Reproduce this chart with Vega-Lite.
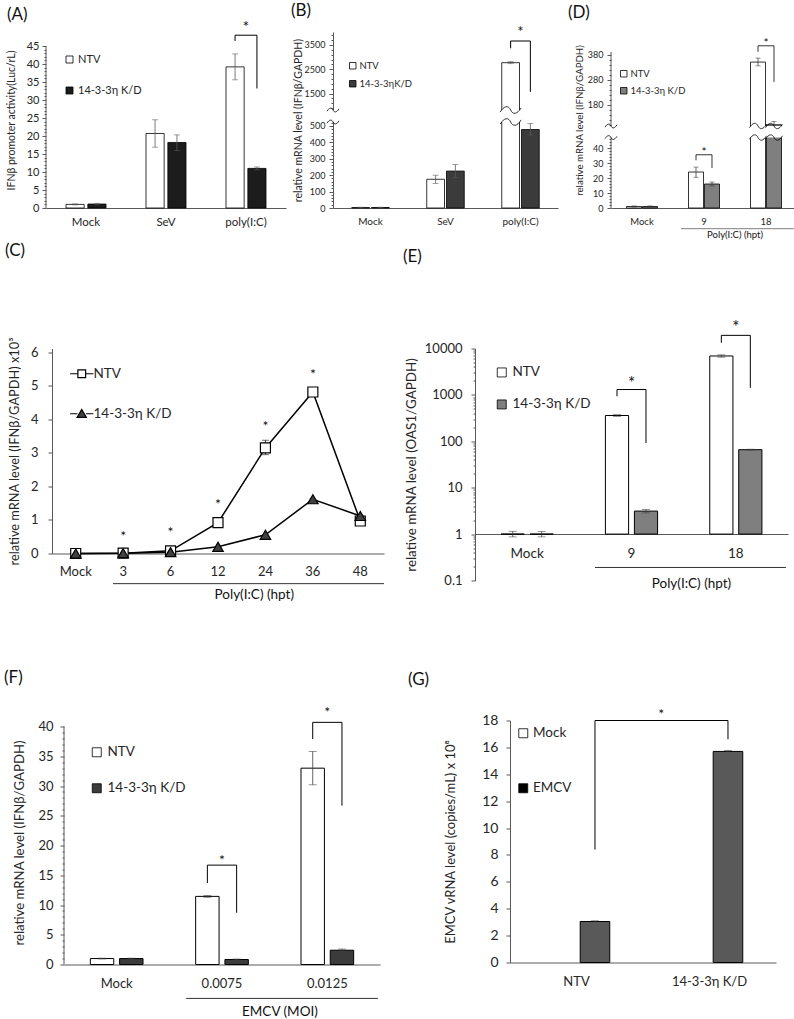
{
"$schema": "https://vega.github.io/schema/vega-lite/v6.json",
"background": "white",
"padding": {"left": 4, "top": 2, "right": 0, "bottom": 0},
"config": {
 "font": "Lato",
 "view": {"stroke": null},
 "axis": {"grid": false, "labelOverlap": false, "labelFont": "Lato", "titleFont": "Lato", "labelColor": "#262626", "titleColor": "#262626", "titleFontWeight": "normal", "domainColor": "#595959", "tickColor": "#595959", "tickSize": 4, "labelPadding": 2},
 "axisX": {"ticks": false, "tickSize": 0, "labelAngle": 0},
 "legend": {"padding": 0, "symbolStrokeColor": "black", "symbolStrokeWidth": 0.8, "symbolType": "square", "labelFont": "Lato", "labelColor": "#262626", "labelLimit": 200},
 "title": {"fontSize": 17, "fontWeight": "normal", "anchor": "start", "frame": "group", "baseline": "bottom", "font": "Lato", "color": "#111"},
 "text": {"font": "Lato", "color": "#111"}
},
"datasets": {
 "aBars": [
  {"cat":"Mock","grp":"NTV","v":1.0,"lo":0.85,"hi":1.15},
  {"cat":"Mock","grp":"14-3-3η K/D","v":1.1,"lo":0.9,"hi":1.3},
  {"cat":"SeV","grp":"NTV","v":20.7,"lo":16.9,"hi":24.5},
  {"cat":"SeV","grp":"14-3-3η K/D","v":18.2,"lo":16.0,"hi":20.3},
  {"cat":"poly(I:C)","grp":"NTV","v":39.2,"lo":35.6,"hi":42.8},
  {"cat":"poly(I:C)","grp":"14-3-3η K/D","v":11.0,"lo":10.6,"hi":11.4}],
 "aAx": [{"cat":"Mock","y0":0,"y1":45}],
 "aBr": [
  {"b":1,"o":1,"cat":"poly(I:C)","grp":"NTV","y":46.4},
  {"b":1,"o":2,"cat":"poly(I:C)","grp":"NTV","y":48.0},
  {"b":1,"o":3,"cat":"poly(I:C)","grp":"14-3-3η K/D","y":48.0},
  {"b":1,"o":4,"cat":"poly(I:C)","grp":"14-3-3η K/D","y":33.2}],
 "aStar": [{"cat":"poly(I:C)","y":51.2}],
 "bBars": [
  {"cat":"Mock","grp":"NTV","v":3,"lo":1,"hi":5},
  {"cat":"Mock","grp":"14-3-3ηK/D","v":3,"lo":1,"hi":5},
  {"cat":"SeV","grp":"NTV","v":175,"lo":150,"hi":200},
  {"cat":"SeV","grp":"14-3-3ηK/D","v":225,"lo":187,"hi":265},
  {"cat":"poly(I:C)","grp":"NTV","v":2770,"lo":2730,"hi":2810},
  {"cat":"poly(I:C)","grp":"14-3-3ηK/D","v":478,"lo":445,"hi":515}],
 "bBr": [
  {"b":1,"o":1,"cat":"poly(I:C)","grp":"NTV","y":3360},
  {"b":1,"o":2,"cat":"poly(I:C)","grp":"NTV","y":3660},
  {"b":1,"o":3,"cat":"poly(I:C)","grp":"14-3-3ηK/D","y":3660},
  {"b":1,"o":4,"cat":"poly(I:C)","grp":"14-3-3ηK/D","y":1570}],
 "bStar": [{"cat":"poly(I:C)","y":4160}],
 "bGap": [{"cat":"poly(I:C)","grp":"NTV","lo":524,"hi":826}],
 "bGapAx": [{"cat":"Mock","lo":524,"hi":826}],
 "dBars": [
  {"cat":"Mock","grp":"NTV","v":1,"lo":0.6,"hi":1.4},
  {"cat":"Mock","grp":"14-3-3η K/D","v":1,"lo":0.6,"hi":1.4},
  {"cat":"9","grp":"NTV","v":24,"lo":20.5,"hi":27.3},
  {"cat":"9","grp":"14-3-3η K/D","v":16,"lo":14.7,"hi":17.3},
  {"cat":"18","grp":"NTV","v":350,"lo":335,"hi":366},
  {"cat":"18","grp":"14-3-3η K/D","v":100,"lo":92,"hi":113}],
 "dAx": [{"cat":"Mock","y0":0,"y1":390}],
 "dBr": [
  {"b":1,"o":1,"cat":"9","grp":"NTV","y":31.8},
  {"b":1,"o":2,"cat":"9","grp":"NTV","y":35.5},
  {"b":1,"o":3,"cat":"9","grp":"14-3-3η K/D","y":35.5},
  {"b":1,"o":4,"cat":"9","grp":"14-3-3η K/D","y":26.7},
  {"b":2,"o":1,"cat":"18","grp":"NTV","y":391},
  {"b":2,"o":2,"cat":"18","grp":"NTV","y":415},
  {"b":2,"o":3,"cat":"18","grp":"14-3-3η K/D","y":415},
  {"b":2,"o":4,"cat":"18","grp":"14-3-3η K/D","y":271}],
 "dStar": [{"cat":"9","y":38.5},{"cat":"18","y":434}],
 "dGap": [{"cat":"18","grp":"NTV","lo":47,"hi":95},{"cat":"18","grp":"14-3-3η K/D","lo":47,"hi":95}],
 "dGapAx": [{"cat":"Mock","lo":47,"hi":95}],
 "dGroup": [{"from":"9","to":"18","y":-13.8,"ty":-18,"label":"Poly(I:C) (hpt)"}],
 "cData": [
  {"t":"Mock","grp":"NTV","v":0},{"t":"3","grp":"NTV","v":0.01},{"t":"6","grp":"NTV","v":0.08},{"t":"12","grp":"NTV","v":0.92},{"t":"24","grp":"NTV","v":3.15},{"t":"36","grp":"NTV","v":4.82},{"t":"48","grp":"NTV","v":0.97},
  {"t":"Mock","grp":"14-3-3η K/D","v":0},{"t":"3","grp":"14-3-3η K/D","v":0.01},{"t":"6","grp":"14-3-3η K/D","v":0.04},{"t":"12","grp":"14-3-3η K/D","v":0.2},{"t":"24","grp":"14-3-3η K/D","v":0.56},{"t":"36","grp":"14-3-3η K/D","v":1.62},{"t":"48","grp":"14-3-3η K/D","v":1.12}],
 "cErr": [{"t":"24","lo":2.95,"hi":3.38}],
 "cStar": [{"t":"3","y":0.58},{"t":"6","y":0.71},{"t":"12","y":1.55},{"t":"24","y":3.86},{"t":"36","y":5.43}],
 "cGroup": [{"from":"3","to":"48","y":-0.9,"ty":-1.23,"label":"Poly(I:C) (hpt)"}],
 "eBars": [
  {"cat":"Mock","grp":"NTV","v":1,"lo":0.87,"hi":1.15},
  {"cat":"Mock","grp":"14-3-3η K/D","v":1,"lo":0.87,"hi":1.15},
  {"cat":"9","grp":"NTV","v":360,"lo":345,"hi":375},
  {"cat":"9","grp":"14-3-3η K/D","v":3.13,"lo":2.85,"hi":3.4},
  {"cat":"18","grp":"NTV","v":6900,"lo":6500,"hi":7300},
  {"cat":"18","grp":"14-3-3η K/D","v":66,"lo":64.5,"hi":67.5}],
 "eBr": [
  {"b":1,"o":1,"cat":"9","grp":"NTV","y":935},
  {"b":1,"o":2,"cat":"9","grp":"NTV","y":1306},
  {"b":1,"o":3,"cat":"9","grp":"14-3-3η K/D","y":1306},
  {"b":1,"o":4,"cat":"9","grp":"14-3-3η K/D","y":92},
  {"b":2,"o":1,"cat":"18","grp":"NTV","y":13300},
  {"b":2,"o":2,"cat":"18","grp":"NTV","y":19200},
  {"b":2,"o":3,"cat":"18","grp":"14-3-3η K/D","y":19200},
  {"b":2,"o":4,"cat":"18","grp":"14-3-3η K/D","y":1420}],
 "eStar": [{"cat":"9","y":2140},{"cat":"18","y":33000}],
 "eGroup": [{"from":"9","to":"18","y":0.191,"ty":0.086,"label":"Poly(I:C) (hpt)"}],
 "fBars": [
  {"cat":"Mock","grp":"NTV","v":1.0,"lo":0.93,"hi":1.07},
  {"cat":"Mock","grp":"14-3-3η K/D","v":1.0,"lo":0.93,"hi":1.07},
  {"cat":"0.0075","grp":"NTV","v":11.45,"lo":11.3,"hi":11.6},
  {"cat":"0.0075","grp":"14-3-3η K/D","v":0.84,"lo":0.76,"hi":0.92},
  {"cat":"0.0125","grp":"NTV","v":33.0,"lo":30.2,"hi":35.8},
  {"cat":"0.0125","grp":"14-3-3η K/D","v":2.4,"lo":2.2,"hi":2.6}],
 "fAx": [{"cat":"Mock","y0":0,"y1":40}],
 "fBr": [
  {"b":1,"o":1,"cat":"0.0075","grp":"NTV","y":13.7},
  {"b":1,"o":2,"cat":"0.0075","grp":"NTV","y":16.7},
  {"b":1,"o":3,"cat":"0.0075","grp":"14-3-3η K/D","y":16.7},
  {"b":1,"o":4,"cat":"0.0075","grp":"14-3-3η K/D","y":8.7},
  {"b":2,"o":1,"cat":"0.0125","grp":"NTV","y":37.9},
  {"b":2,"o":2,"cat":"0.0125","grp":"NTV","y":40.7},
  {"b":2,"o":3,"cat":"0.0125","grp":"14-3-3η K/D","y":40.7},
  {"b":2,"o":4,"cat":"0.0125","grp":"14-3-3η K/D","y":26.7}],
 "fStar": [{"cat":"0.0075","y":17.9},{"cat":"0.0125","y":42.7}],
 "fGroup": [{"from":"0.0075","to":"0.0125","y":-5.7,"ty":-7.9,"label":"EMCV (MOI)"}],
 "gBars": [
  {"cat":"NTV","grp":"Mock"},
  {"cat":"NTV","grp":"EMCV","v":3.05,"lo":3.0,"hi":3.1},
  {"cat":"14-3-3η K/D","grp":"Mock"},
  {"cat":"14-3-3η K/D","grp":"EMCV","v":15.7,"lo":15.62,"hi":15.78}],
 "gBr": [
  {"b":1,"o":1,"cat":"NTV","grp":"EMCV","y":8.4},
  {"b":1,"o":2,"cat":"NTV","grp":"EMCV","y":18},
  {"b":1,"o":3,"cat":"14-3-3η K/D","grp":"EMCV","y":18},
  {"b":1,"o":4,"cat":"14-3-3η K/D","grp":"EMCV","y":16.6}],
 "gStar": [{"cat":"NTV","y":18.6}]
},
"spacing": 1.5,
"bounds": "full",
"resolve": {"scale": {"x": "independent", "y": "independent", "xOffset": "independent", "fill": "independent", "shape": "independent", "stroke": "independent", "color": "independent"}, "axis": {"x": "independent", "y": "independent"}, "legend": {"fill": "independent", "shape": "independent", "stroke": "independent", "color": "independent"}},
"vconcat": [
 {"spacing": 0, "bounds": "flush",
  "resolve": {"scale": {"x": "independent", "y": "independent", "xOffset": "independent", "fill": "independent", "shape": "independent", "stroke": "independent", "color": "independent"}, "axis": {"x": "independent", "y": "independent"}, "legend": {"fill": "independent", "shape": "independent", "stroke": "independent", "color": "independent"}},
  "hconcat": [
 {"width": 240, "height": 176,
  "title": {"text": "(A)", "dx": -39, "offset": -5},
  "layer": [
   {"data": {"name": "aBars"}, "mark": {"type": "bar", "stroke": "black", "strokeWidth": 0.8},
    "encoding": {
     "x": {"field": "cat", "type": "nominal", "sort": ["Mock","SeV","poly(I:C)"], "scale": {"domain": ["Mock","SeV","poly(I:C)"], "paddingInner": 0.5, "paddingOuter": 0.25}, "axis": {"title": null, "labelFontSize": 11.5, "labelPadding": 8}},
     "xOffset": {"field": "grp", "type": "nominal", "sort": ["NTV","14-3-3η K/D"], "scale": {"domain": ["NTV","14-3-3η K/D"], "paddingInner": 0.17}},
     "y": {"field": "v", "type": "quantitative", "scale": {"domain": [0, 48.89], "nice": false}, "axis": {"title": "IFNβ promoter activity(Luc/rL)", "domain": false, "format": "d", "labelOverlap": false, "tickCount": 1000, "values": [0,1,2,3,4,5,6,7,8,9,10,11,12,13,14,15,16,17,18,19,20,21,22,23,24,25,26,27,28,29,30,31,32,33,34,35,36,37,38,39,40,41,42,43,44,45], "labelExpr": "datum.value % 5 === 0 ? datum.label : ''", "tickSize": {"condition": {"test": "datum.value % 5 === 0", "value": 4}, "value": 2}, "labelFontSize": 11, "titleFontSize": 10.5, "titlePadding": 10, "labelPadding": 3}},
     "fill": {"field": "grp", "type": "nominal", "scale": {"domain": ["NTV","14-3-3η K/D"], "range": ["white","#1c1c1c"]}, "legend": {"orient": "none", "legendX": 18, "legendY": 22, "title": null, "labelFontSize": 11, "symbolSize": 49, "rowPadding": 19, "labelOffset": 3}}
    }},
   {"data": {"name": "aAx"}, "mark": {"type": "rule", "color": "#595959", "strokeWidth": 1},
    "encoding": {"x": {"field": "cat", "type": "nominal", "sort": ["Mock","SeV","poly(I:C)"], "bandPosition": -0.5}, "y": {"field": "y0", "type": "quantitative"}, "y2": {"field": "y1"}}},
   {"data": {"name": "aBars"}, "mark": {"type": "rule", "color": "#595959", "strokeWidth": 0.8},
    "encoding": {"x": {"field": "cat", "type": "nominal", "sort": ["Mock","SeV","poly(I:C)"]}, "xOffset": {"field": "grp", "type": "nominal", "sort": ["NTV","14-3-3η K/D"]}, "y": {"field": "lo", "type": "quantitative"}, "y2": {"field": "hi"}}},
   {"data": {"name": "aBars"}, "mark": {"type": "tick", "orient": "horizontal", "color": "#595959", "size": 6, "thickness": 0.8},
    "encoding": {"x": {"field": "cat", "type": "nominal", "sort": ["Mock","SeV","poly(I:C)"]}, "xOffset": {"field": "grp", "type": "nominal", "sort": ["NTV","14-3-3η K/D"]}, "y": {"field": "hi", "type": "quantitative"}}},
   {"data": {"name": "aBars"}, "mark": {"type": "tick", "orient": "horizontal", "color": "#595959", "size": 6, "thickness": 0.8},
    "encoding": {"x": {"field": "cat", "type": "nominal", "sort": ["Mock","SeV","poly(I:C)"]}, "xOffset": {"field": "grp", "type": "nominal", "sort": ["NTV","14-3-3η K/D"]}, "y": {"field": "lo", "type": "quantitative"}}},
   {"data": {"name": "aBr"}, "mark": {"type": "line", "color": "black", "strokeWidth": 1},
    "encoding": {"x": {"field": "cat", "type": "nominal", "sort": ["Mock","SeV","poly(I:C)"]}, "xOffset": {"field": "grp", "type": "nominal", "sort": ["NTV","14-3-3η K/D"]}, "y": {"field": "y", "type": "quantitative"}, "order": {"field": "o", "type": "quantitative"}, "detail": {"field": "b", "type": "nominal"}}},
   {"data": {"name": "aStar"}, "mark": {"type": "text", "text": "*", "fontSize": 16, "baseline": "middle", "dy": 3},
    "encoding": {"x": {"field": "cat", "type": "nominal", "sort": ["Mock","SeV","poly(I:C)"]}, "y": {"field": "y", "type": "quantitative"}}}
  ]},
 {"width": 47, "height": 1, "data": {"values": []}, "mark": "point"},
 {"width": 225, "height": 176,
  "title": {"text": "(B)", "dx": -42, "offset": 4.5},
  "layer": [
   {"data": {"name": "bBars"}, "mark": {"type": "bar", "stroke": "black", "strokeWidth": 0.8},
    "encoding": {
     "x": {"field": "cat", "type": "nominal", "sort": ["Mock","SeV","poly(I:C)"], "scale": {"domain": ["Mock","SeV","poly(I:C)"], "paddingInner": 0.5, "paddingOuter": 0.25}, "axis": {"title": null, "labelFontSize": 10, "labelPadding": 8}},
     "xOffset": {"field": "grp", "type": "nominal", "sort": ["NTV","14-3-3ηK/D"], "scale": {"domain": ["NTV","14-3-3ηK/D"], "paddingInner": 0.1}},
     "y": {"field": "v", "type": "quantitative", "scale": {"domain": [0, 524, 826, 4030], "range": [176, 90, 78, 0], "nice": false, "zero": false}, "axis": {"title": "relative mRNA level (IFNβ/GAPDH)", "format": "d", "labelOverlap": false, "tickCount": 1000, "values": [0,20,40,60,80,100,120,140,160,180,200,220,240,260,280,300,320,340,360,380,400,420,440,460,480,500,520,900,1100,1300,1500,1700,1900,2100,2300,2500,2700,2900,3100,3300,3500,3700,3900], "labelExpr": "indexof([0,100,200,300,400,500,1500,2500,3500], datum.value) >= 0 ? datum.label : ''", "tickSize": {"condition": {"test": "indexof([0,100,200,300,400,500,1500,2500,3500], datum.value) >= 0", "value": 4}, "value": 2}, "labelFontSize": 9, "titleFontSize": 10.5, "titlePadding": 1, "labelPadding": 4}},
     "fill": {"field": "grp", "type": "nominal", "scale": {"domain": ["NTV","14-3-3ηK/D"], "range": ["white","#3b3b3b"]}, "legend": {"orient": "none", "legendX": 15, "legendY": 29, "title": null, "labelFontSize": 9.5, "symbolSize": 42, "rowPadding": 7, "labelOffset": 2}}
    }},
   {"data": {"name": "bBars"}, "mark": {"type": "rule", "color": "#595959", "strokeWidth": 0.8},
    "encoding": {"x": {"field": "cat", "type": "nominal", "sort": ["Mock","SeV","poly(I:C)"]}, "xOffset": {"field": "grp", "type": "nominal", "sort": ["NTV","14-3-3ηK/D"]}, "y": {"field": "lo", "type": "quantitative"}, "y2": {"field": "hi"}}},
   {"data": {"name": "bBars"}, "mark": {"type": "tick", "orient": "horizontal", "color": "#595959", "size": 6, "thickness": 0.8},
    "encoding": {"x": {"field": "cat", "type": "nominal", "sort": ["Mock","SeV","poly(I:C)"]}, "xOffset": {"field": "grp", "type": "nominal", "sort": ["NTV","14-3-3ηK/D"]}, "y": {"field": "hi", "type": "quantitative"}}},
   {"data": {"name": "bBars"}, "mark": {"type": "tick", "orient": "horizontal", "color": "#595959", "size": 6, "thickness": 0.8},
    "encoding": {"x": {"field": "cat", "type": "nominal", "sort": ["Mock","SeV","poly(I:C)"]}, "xOffset": {"field": "grp", "type": "nominal", "sort": ["NTV","14-3-3ηK/D"]}, "y": {"field": "lo", "type": "quantitative"}}},
   {"data": {"name": "bGap"}, "mark": {"type": "rule", "color": "white", "strokeWidth": 22},
    "encoding": {"x": {"field": "cat", "type": "nominal", "sort": ["Mock","SeV","poly(I:C)"]}, "xOffset": {"field": "grp", "type": "nominal", "sort": ["NTV","14-3-3ηK/D"]}, "y": {"field": "lo", "type": "quantitative"}, "y2": {"field": "hi"}}},
   {"data": {"name": "bGap"}, "mark": {"type": "point", "shape": "M-1,0.2C-0.6,-0.45 -0.2,-0.45 0,0C0.2,0.45 0.6,0.45 1,-0.2", "size": 441, "filled": false, "stroke": "black", "strokeWidth": 0.8, "opacity": 1},
    "encoding": {"x": {"field": "cat", "type": "nominal", "sort": ["Mock","SeV","poly(I:C)"]}, "xOffset": {"field": "grp", "type": "nominal", "sort": ["NTV","14-3-3ηK/D"]}, "y": {"field": "lo", "type": "quantitative"}}},
   {"data": {"name": "bGap"}, "mark": {"type": "point", "shape": "M-1,0.2C-0.6,-0.45 -0.2,-0.45 0,0C0.2,0.45 0.6,0.45 1,-0.2", "size": 441, "filled": false, "stroke": "black", "strokeWidth": 0.8, "opacity": 1},
    "encoding": {"x": {"field": "cat", "type": "nominal", "sort": ["Mock","SeV","poly(I:C)"]}, "xOffset": {"field": "grp", "type": "nominal", "sort": ["NTV","14-3-3ηK/D"]}, "y": {"field": "hi", "type": "quantitative"}}},
   {"data": {"name": "bGapAx"}, "mark": {"type": "rule", "color": "white", "strokeWidth": 4},
    "encoding": {"x": {"field": "cat", "type": "nominal", "sort": ["Mock","SeV","poly(I:C)"], "bandPosition": -0.5}, "y": {"field": "lo", "type": "quantitative"}, "y2": {"field": "hi"}}},
   {"data": {"name": "bGapAx"}, "mark": {"type": "point", "shape": "M-1,0.2C-0.6,-0.45 -0.2,-0.45 0,0C0.2,0.45 0.6,0.45 1,-0.2", "size": 144, "filled": false, "stroke": "black", "strokeWidth": 0.8, "opacity": 1},
    "encoding": {"x": {"field": "cat", "type": "nominal", "sort": ["Mock","SeV","poly(I:C)"], "bandPosition": -0.5}, "y": {"field": "lo", "type": "quantitative"}}},
   {"data": {"name": "bGapAx"}, "mark": {"type": "point", "shape": "M-1,0.2C-0.6,-0.45 -0.2,-0.45 0,0C0.2,0.45 0.6,0.45 1,-0.2", "size": 144, "filled": false, "stroke": "black", "strokeWidth": 0.8, "opacity": 1},
    "encoding": {"x": {"field": "cat", "type": "nominal", "sort": ["Mock","SeV","poly(I:C)"], "bandPosition": -0.5}, "y": {"field": "hi", "type": "quantitative"}}},
   {"data": {"name": "bBr"}, "mark": {"type": "line", "color": "black", "strokeWidth": 1},
    "encoding": {"x": {"field": "cat", "type": "nominal", "sort": ["Mock","SeV","poly(I:C)"]}, "xOffset": {"field": "grp", "type": "nominal", "sort": ["NTV","14-3-3ηK/D"]}, "y": {"field": "y", "type": "quantitative"}, "order": {"field": "o", "type": "quantitative"}, "detail": {"field": "b", "type": "nominal"}}},
   {"data": {"name": "bStar"}, "mark": {"type": "text", "text": "*", "fontSize": 15, "baseline": "middle", "dy": 3},
    "encoding": {"x": {"field": "cat", "type": "nominal", "sort": ["Mock","SeV","poly(I:C)"]}, "y": {"field": "y", "type": "quantitative"}}}
  ]},
 {"width": 53, "height": 1, "data": {"values": []}, "mark": "point"},
 {"width": 186, "height": 176,
  "title": {"text": "(D)", "dx": -43, "offset": 10.5},
  "layer": [
   {"data": {"name": "dBars"}, "mark": {"type": "bar", "stroke": "black", "strokeWidth": 0.8},
    "encoding": {
     "x": {"field": "cat", "type": "nominal", "sort": ["Mock","9","18"], "scale": {"domain": ["Mock","9","18"], "paddingInner": 0.5, "paddingOuter": 0.25}, "axis": {"title": null, "labelFontSize": 9.5, "labelPadding": 8}},
     "xOffset": {"field": "grp", "type": "nominal", "sort": ["NTV","14-3-3η K/D"], "scale": {"domain": ["NTV","14-3-3η K/D"], "paddingInner": 0.06}},
     "y": {"field": "v", "type": "quantitative", "scale": {"domain": [0, 47, 95, 470], "range": [176, 105.5, 94, 0], "nice": false, "zero": false}, "axis": {"title": "relative mRNA level (IFNβ/GAPDH)", "domain": false, "format": "d", "labelOverlap": false, "tickCount": 1000, "values": [0,2,4,6,8,10,12,14,16,18,20,22,24,26,28,30,32,34,36,38,40,42,44,46,100,120,140,160,180,200,220,240,260,280,300,320,340,360,380], "labelExpr": "indexof([0,10,20,30,40,180,280,380], datum.value) >= 0 ? datum.label : ''", "tickSize": {"condition": {"test": "indexof([0,10,20,30,40,180,280,380], datum.value) >= 0", "value": 4}, "value": 2}, "labelFontSize": 9, "titleFontSize": 9.7, "titlePadding": 3, "labelPadding": 4}},
     "fill": {"field": "grp", "type": "nominal", "scale": {"domain": ["NTV","14-3-3η K/D"], "range": ["white","#7f7f7f"]}, "legend": {"orient": "none", "legendX": 8, "legendY": 37, "title": null, "labelFontSize": 9.5, "symbolSize": 42, "rowPadding": 6, "labelOffset": 2}}
    }},
   {"data": {"name": "dAx"}, "mark": {"type": "rule", "color": "#595959", "strokeWidth": 1},
    "encoding": {"x": {"field": "cat", "type": "nominal", "sort": ["Mock","9","18"], "bandPosition": -0.5}, "y": {"field": "y0", "type": "quantitative"}, "y2": {"field": "y1"}}},
   {"data": {"name": "dBars"}, "mark": {"type": "rule", "color": "#404040", "strokeWidth": 0.8},
    "encoding": {"x": {"field": "cat", "type": "nominal", "sort": ["Mock","9","18"]}, "xOffset": {"field": "grp", "type": "nominal", "sort": ["NTV","14-3-3η K/D"]}, "y": {"field": "lo", "type": "quantitative"}, "y2": {"field": "hi"}}},
   {"data": {"name": "dBars"}, "mark": {"type": "tick", "orient": "horizontal", "color": "#404040", "size": 5, "thickness": 0.8},
    "encoding": {"x": {"field": "cat", "type": "nominal", "sort": ["Mock","9","18"]}, "xOffset": {"field": "grp", "type": "nominal", "sort": ["NTV","14-3-3η K/D"]}, "y": {"field": "hi", "type": "quantitative"}}},
   {"data": {"name": "dBars"}, "mark": {"type": "tick", "orient": "horizontal", "color": "#404040", "size": 5, "thickness": 0.8},
    "encoding": {"x": {"field": "cat", "type": "nominal", "sort": ["Mock","9","18"]}, "xOffset": {"field": "grp", "type": "nominal", "sort": ["NTV","14-3-3η K/D"]}, "y": {"field": "lo", "type": "quantitative"}}},
   {"data": {"name": "dGap"}, "mark": {"type": "rule", "color": "white", "strokeWidth": 17},
    "encoding": {"x": {"field": "cat", "type": "nominal", "sort": ["Mock","9","18"]}, "xOffset": {"field": "grp", "type": "nominal", "sort": ["NTV","14-3-3η K/D"]}, "y": {"field": "lo", "type": "quantitative"}, "y2": {"field": "hi"}}},
   {"data": {"name": "dGap"}, "mark": {"type": "point", "shape": "M-1,0.2C-0.6,-0.45 -0.2,-0.45 0,0C0.2,0.45 0.6,0.45 1,-0.2", "size": 289, "filled": false, "stroke": "black", "strokeWidth": 0.8, "opacity": 1},
    "encoding": {"x": {"field": "cat", "type": "nominal", "sort": ["Mock","9","18"]}, "xOffset": {"field": "grp", "type": "nominal", "sort": ["NTV","14-3-3η K/D"]}, "y": {"field": "lo", "type": "quantitative"}}},
   {"data": {"name": "dGap"}, "mark": {"type": "point", "shape": "M-1,0.2C-0.6,-0.45 -0.2,-0.45 0,0C0.2,0.45 0.6,0.45 1,-0.2", "size": 289, "filled": false, "stroke": "black", "strokeWidth": 0.8, "opacity": 1},
    "encoding": {"x": {"field": "cat", "type": "nominal", "sort": ["Mock","9","18"]}, "xOffset": {"field": "grp", "type": "nominal", "sort": ["NTV","14-3-3η K/D"]}, "y": {"field": "hi", "type": "quantitative"}}},
   {"data": {"name": "dGapAx"}, "mark": {"type": "rule", "color": "white", "strokeWidth": 4},
    "encoding": {"x": {"field": "cat", "type": "nominal", "sort": ["Mock","9","18"], "bandPosition": -0.5}, "y": {"field": "lo", "type": "quantitative"}, "y2": {"field": "hi"}}},
   {"data": {"name": "dGapAx"}, "mark": {"type": "point", "shape": "M-1,0.2C-0.6,-0.45 -0.2,-0.45 0,0C0.2,0.45 0.6,0.45 1,-0.2", "size": 144, "filled": false, "stroke": "black", "strokeWidth": 0.8, "opacity": 1},
    "encoding": {"x": {"field": "cat", "type": "nominal", "sort": ["Mock","9","18"], "bandPosition": -0.5}, "y": {"field": "lo", "type": "quantitative"}}},
   {"data": {"name": "dGapAx"}, "mark": {"type": "point", "shape": "M-1,0.2C-0.6,-0.45 -0.2,-0.45 0,0C0.2,0.45 0.6,0.45 1,-0.2", "size": 144, "filled": false, "stroke": "black", "strokeWidth": 0.8, "opacity": 1},
    "encoding": {"x": {"field": "cat", "type": "nominal", "sort": ["Mock","9","18"], "bandPosition": -0.5}, "y": {"field": "hi", "type": "quantitative"}}},
   {"data": {"name": "dBr"}, "mark": {"type": "line", "color": "black", "strokeWidth": 0.8},
    "encoding": {"x": {"field": "cat", "type": "nominal", "sort": ["Mock","9","18"]}, "xOffset": {"field": "grp", "type": "nominal", "sort": ["NTV","14-3-3η K/D"]}, "y": {"field": "y", "type": "quantitative"}, "order": {"field": "o", "type": "quantitative"}, "detail": {"field": "b", "type": "nominal"}}},
   {"data": {"name": "dStar"}, "mark": {"type": "text", "text": "*", "fontSize": 12, "baseline": "middle", "dy": 2},
    "encoding": {"x": {"field": "cat", "type": "nominal", "sort": ["Mock","9","18"]}, "y": {"field": "y", "type": "quantitative"}}},
   {"data": {"name": "dGroup"}, "mark": {"type": "rule", "color": "#7f7f7f", "strokeWidth": 1},
    "encoding": {"x": {"field": "from", "type": "nominal", "sort": ["Mock","9","18"], "bandPosition": -0.24}, "x2": {"field": "to", "bandPosition": 1.4}, "y": {"field": "y", "type": "quantitative"}}},
   {"data": {"name": "dGroup"}, "mark": {"type": "text", "fontSize": 9.5, "baseline": "middle"},
    "encoding": {"x": {"field": "from", "type": "nominal", "sort": ["Mock","9","18"], "bandPosition": 1.5}, "y": {"field": "ty", "type": "quantitative"}, "text": {"field": "label"}}}
  ]}
 ]},
 {"spacing": 0, "bounds": "flush",
  "resolve": {"scale": {"x": "independent", "y": "independent", "xOffset": "independent", "fill": "independent", "shape": "independent", "stroke": "independent", "color": "independent"}, "axis": {"x": "independent", "y": "independent"}, "legend": {"fill": "independent", "shape": "independent", "stroke": "independent", "color": "independent"}},
  "hconcat": [
 {"width": 6, "height": 1, "data": {"values": []}, "mark": "point"},
 {"width": 332, "height": 205,
  "title": {"text": "(C)", "dx": -47, "offset": 76.5},
  "layer": [
   {"data": {"name": "cData"}, "mark": {"type": "line", "color": "black", "strokeWidth": 1.5},
    "encoding": {
     "x": {"field": "t", "type": "nominal", "sort": ["Mock","3","6","12","24","36","48"], "scale": {"type": "band", "domain": ["Mock","3","6","12","24","36","48"], "paddingInner": 0, "paddingOuter": 0}, "axis": {"title": null, "labelFontSize": 13, "labelPadding": 12}},
     "y": {"field": "v", "type": "quantitative", "scale": {"domain": [0, 6.119], "nice": false}, "axis": {"title": "relative mRNA level (IFNβ/GAPDH) x10³", "format": "d", "labelOverlap": false, "tickCount": 1000, "values": [0,1,2,3,4,5,6], "labelFontSize": 13, "titleFontSize": 12.8, "titlePadding": 9, "labelPadding": 10}},
     "detail": {"field": "grp", "type": "nominal"}
    }},
   {"data": {"name": "cErr"}, "mark": {"type": "rule", "color": "#333", "strokeWidth": 1},
    "encoding": {"x": {"field": "t", "type": "nominal", "sort": ["Mock","3","6","12","24","36","48"]}, "y": {"field": "lo", "type": "quantitative"}, "y2": {"field": "hi"}}},
   {"data": {"name": "cErr"}, "mark": {"type": "tick", "orient": "horizontal", "color": "#333", "size": 7, "thickness": 1},
    "encoding": {"x": {"field": "t", "type": "nominal", "sort": ["Mock","3","6","12","24","36","48"]}, "y": {"field": "hi", "type": "quantitative"}}},
   {"data": {"name": "cErr"}, "mark": {"type": "tick", "orient": "horizontal", "color": "#333", "size": 7, "thickness": 1},
    "encoding": {"x": {"field": "t", "type": "nominal", "sort": ["Mock","3","6","12","24","36","48"]}, "y": {"field": "lo", "type": "quantitative"}}},
   {"data": {"name": "cData"}, "transform": [{"filter": "datum.grp === 'NTV'"}],
    "mark": {"type": "point", "shape": "square", "filled": true, "fill": "white", "size": 100, "stroke": "black", "strokeWidth": 1.2, "opacity": 1},
    "encoding": {"x": {"field": "t", "type": "nominal", "sort": ["Mock","3","6","12","24","36","48"]}, "y": {"field": "v", "type": "quantitative"}}},
   {"data": {"name": "cData"}, "transform": [{"filter": "datum.grp !== 'NTV'"}],
    "mark": {"type": "point", "shape": "triangle-up", "filled": true, "fill": "#404040", "size": 110, "stroke": "black", "strokeWidth": 1.2, "opacity": 1},
    "encoding": {"x": {"field": "t", "type": "nominal", "sort": ["Mock","3","6","12","24","36","48"]}, "y": {"field": "v", "type": "quantitative"}}},
   {"data": {"name": "cData"}, "transform": [{"filter": "false"}],
    "mark": {"type": "point", "filled": true, "size": 60, "opacity": 1},
    "encoding": {
     "x": {"field": "t", "type": "nominal", "sort": ["Mock","3","6","12","24","36","48"]},
     "y": {"field": "v", "type": "quantitative"},
     "shape": {"field": "grp", "type": "nominal", "scale": {"domain": ["NTV","14-3-3η K/D"], "range": ["M-3,0L-1,0M-1,-1L1,-1L1,1L-1,1ZM1,0L3,0", "M-3,0L-1.1,0M0,-1.1L1.2,0.95L-1.2,0.95ZM1.1,0L3,0"]},
       "legend": {"orient": "none", "legendX": 23, "legendY": 18.5, "title": null, "labelFontSize": 13.5, "symbolSize": 60, "symbolStrokeWidth": 1.2, "symbolOpacity": 1, "rowPadding": 25, "labelOffset": 5}},
     "fill": {"field": "grp", "type": "nominal", "scale": {"domain": ["NTV","14-3-3η K/D"], "range": ["white","#404040"]},
       "legend": {"orient": "none", "legendX": 23, "legendY": 18.5, "title": null, "labelFontSize": 13.5, "symbolSize": 60, "symbolStrokeWidth": 1.2, "symbolOpacity": 1, "rowPadding": 25, "labelOffset": 5}},
     "stroke": {"field": "grp", "type": "nominal", "scale": {"domain": ["NTV","14-3-3η K/D"], "range": ["black","black"]},
       "legend": {"orient": "none", "legendX": 23, "legendY": 18.5, "title": null, "labelFontSize": 13.5, "symbolSize": 60, "symbolStrokeWidth": 1.2, "symbolOpacity": 1, "rowPadding": 25, "labelOffset": 5}}
    }},
   {"data": {"name": "cStar"}, "mark": {"type": "text", "text": "*", "fontSize": 14, "baseline": "middle", "dy": 3},
    "encoding": {"x": {"field": "t", "type": "nominal", "sort": ["Mock","3","6","12","24","36","48"]}, "y": {"field": "y", "type": "quantitative"}}},
   {"data": {"name": "cGroup"}, "mark": {"type": "rule", "color": "#333", "strokeWidth": 1},
    "encoding": {"x": {"field": "from", "type": "nominal", "sort": ["Mock","3","6","12","24","36","48"], "bandPosition": 0.286}, "x2": {"field": "to", "bandPosition": 1.0}, "y": {"field": "y", "type": "quantitative"}}},
   {"data": {"name": "cGroup"}, "mark": {"type": "text", "fontSize": 13.5, "baseline": "middle"},
    "encoding": {"x": {"field": "from", "type": "nominal", "sort": ["Mock","3","6","12","24","36","48"], "bandPosition": 3.265}, "y": {"field": "ty", "type": "quantitative"}, "text": {"field": "label"}}}
  ]},
 {"width": 91, "height": 1, "data": {"values": []}, "mark": "point"},
 {"width": 313, "height": 232,
  "title": {"text": "(E)", "dx": -72, "offset": 53},
  "layer": [
   {"data": {"name": "eBars"}, "mark": {"type": "bar", "stroke": "black", "strokeWidth": 1},
    "encoding": {
     "x": {"field": "cat", "type": "nominal", "sort": ["Mock","9","18"], "scale": {"domain": ["Mock","9","18"], "paddingInner": 0.5, "paddingOuter": 0.25}, "axis": {"title": null, "labelFontSize": 13.5, "labelPadding": 12, "offset": -46.5}},
     "xOffset": {"field": "grp", "type": "nominal", "sort": ["NTV","14-3-3η K/D"], "scale": {"domain": ["NTV","14-3-3η K/D"], "paddingInner": 0.2}},
     "y": {"field": "v", "type": "quantitative", "scale": {"type": "log", "domain": [0.1, 10000], "nice": false}, "axis": {"title": "relative mRNA level (OAS1/GAPDH)", "labelOverlap": false, "tickCount": 1000, "values": [0.1,0.2,0.3,0.4,0.5,0.6,0.7,0.8,0.9,1,2,3,4,5,6,7,8,9,10,20,30,40,50,60,70,80,90,100,200,300,400,500,600,700,800,900,1000,2000,3000,4000,5000,6000,7000,8000,9000,10000], "format": "~g", "labelExpr": "indexof([0.1,1,10,100,1000,10000], datum.value) >= 0 ? datum.label : ''", "tickSize": {"condition": {"test": "indexof([0.1,1,10,100,1000,10000], datum.value) >= 0", "value": 4}, "value": 2}, "labelFontSize": 13, "titleFontSize": 13.4, "titlePadding": 6, "labelPadding": 9}},
     "y2": {"datum": 1},
     "fill": {"field": "grp", "type": "nominal", "scale": {"domain": ["NTV","14-3-3η K/D"], "range": ["white","#7f7f7f"]}, "legend": {"orient": "none", "legendX": 20, "legendY": 17.2, "title": null, "labelFontSize": 13.5, "symbolSize": 81, "rowPadding": 17, "labelOffset": 4}}
    }},
   {"data": {"name": "eBars"}, "mark": {"type": "rule", "color": "#404040", "strokeWidth": 0.8},
    "encoding": {"x": {"field": "cat", "type": "nominal", "sort": ["Mock","9","18"]}, "xOffset": {"field": "grp", "type": "nominal", "sort": ["NTV","14-3-3η K/D"]}, "y": {"field": "lo", "type": "quantitative"}, "y2": {"field": "hi"}}},
   {"data": {"name": "eBars"}, "mark": {"type": "tick", "orient": "horizontal", "color": "#404040", "size": 8, "thickness": 0.8},
    "encoding": {"x": {"field": "cat", "type": "nominal", "sort": ["Mock","9","18"]}, "xOffset": {"field": "grp", "type": "nominal", "sort": ["NTV","14-3-3η K/D"]}, "y": {"field": "hi", "type": "quantitative"}}},
   {"data": {"name": "eBars"}, "mark": {"type": "tick", "orient": "horizontal", "color": "#404040", "size": 8, "thickness": 0.8},
    "encoding": {"x": {"field": "cat", "type": "nominal", "sort": ["Mock","9","18"]}, "xOffset": {"field": "grp", "type": "nominal", "sort": ["NTV","14-3-3η K/D"]}, "y": {"field": "lo", "type": "quantitative"}}},
   {"data": {"name": "eBr"}, "mark": {"type": "line", "color": "black", "strokeWidth": 1},
    "encoding": {"x": {"field": "cat", "type": "nominal", "sort": ["Mock","9","18"]}, "xOffset": {"field": "grp", "type": "nominal", "sort": ["NTV","14-3-3η K/D"]}, "y": {"field": "y", "type": "quantitative"}, "order": {"field": "o", "type": "quantitative"}, "detail": {"field": "b", "type": "nominal"}}},
   {"data": {"name": "eStar"}, "mark": {"type": "text", "text": "*", "fontSize": 17, "baseline": "middle", "dy": 4},
    "encoding": {"x": {"field": "cat", "type": "nominal", "sort": ["Mock","9","18"]}, "y": {"field": "y", "type": "quantitative"}}},
   {"data": {"name": "eGroup"}, "mark": {"type": "rule", "color": "#333", "strokeWidth": 1},
    "encoding": {"x": {"field": "from", "type": "nominal", "sort": ["Mock","9","18"], "bandPosition": -0.2}, "x2": {"field": "to", "bandPosition": 1.46}, "y": {"field": "y", "type": "quantitative"}}},
   {"data": {"name": "eGroup"}, "mark": {"type": "text", "fontSize": 13.5, "baseline": "middle"},
    "encoding": {"x": {"field": "from", "type": "nominal", "sort": ["Mock","9","18"], "bandPosition": 1.65}, "y": {"field": "ty", "type": "quantitative"}, "text": {"field": "label"}}}
  ]}
 ]},
 {"width": 10, "height": 64, "data": {"values": []}, "mark": "point"},
 {"spacing": 0, "bounds": "flush",
  "resolve": {"scale": {"x": "independent", "y": "independent", "xOffset": "independent", "fill": "independent", "shape": "independent", "stroke": "independent", "color": "independent"}, "axis": {"x": "independent", "y": "independent"}, "legend": {"fill": "independent", "shape": "independent", "stroke": "independent", "color": "independent"}},
  "hconcat": [
 {"width": 18, "height": 1, "data": {"values": []}, "mark": "point"},
 {"width": 316, "height": 244,
  "title": {"text": "(F)", "dx": -60, "offset": 19},
  "layer": [
   {"data": {"name": "fBars"}, "mark": {"type": "bar", "stroke": "black", "strokeWidth": 1},
    "encoding": {
     "x": {"field": "cat", "type": "nominal", "sort": ["Mock","0.0075","0.0125"], "scale": {"domain": ["Mock","0.0075","0.0125"], "paddingInner": 0.5, "paddingOuter": 0.25}, "axis": {"title": null, "labelFontSize": 13, "labelPadding": 13}},
     "xOffset": {"field": "grp", "type": "nominal", "sort": ["NTV","14-3-3η K/D"], "scale": {"domain": ["NTV","14-3-3η K/D"], "paddingInner": 0.2}},
     "y": {"field": "v", "type": "quantitative", "scale": {"domain": [0, 41.01], "nice": false}, "axis": {"title": "relative mRNA level (IFNβ/GAPDH)", "domain": false, "format": "d", "labelOverlap": false, "tickCount": 1000, "values": [0,1,2,3,4,5,6,7,8,9,10,11,12,13,14,15,16,17,18,19,20,21,22,23,24,25,26,27,28,29,30,31,32,33,34,35,36,37,38,39,40], "labelExpr": "datum.value % 5 === 0 ? datum.label : ''", "tickSize": {"condition": {"test": "datum.value % 5 === 0", "value": 4}, "value": 2}, "labelFontSize": 13, "titleFontSize": 13.2, "titlePadding": 11, "labelPadding": 7}},
     "fill": {"field": "grp", "type": "nominal", "scale": {"domain": ["NTV","14-3-3η K/D"], "range": ["white","#3b3b3b"]}, "legend": {"orient": "none", "legendX": 26, "legendY": 25, "title": null, "labelFontSize": 13.5, "symbolSize": 81, "rowPadding": 21, "labelOffset": 4}}
    }},
   {"data": {"name": "fAx"}, "mark": {"type": "rule", "color": "#595959", "strokeWidth": 1},
    "encoding": {"x": {"field": "cat", "type": "nominal", "sort": ["Mock","0.0075","0.0125"], "bandPosition": -0.5}, "y": {"field": "y0", "type": "quantitative"}, "y2": {"field": "y1"}}},
   {"data": {"name": "fBars"}, "mark": {"type": "rule", "color": "#404040", "strokeWidth": 0.8},
    "encoding": {"x": {"field": "cat", "type": "nominal", "sort": ["Mock","0.0075","0.0125"]}, "xOffset": {"field": "grp", "type": "nominal", "sort": ["NTV","14-3-3η K/D"]}, "y": {"field": "lo", "type": "quantitative"}, "y2": {"field": "hi"}}},
   {"data": {"name": "fBars"}, "mark": {"type": "tick", "orient": "horizontal", "color": "#404040", "size": 8, "thickness": 0.8},
    "encoding": {"x": {"field": "cat", "type": "nominal", "sort": ["Mock","0.0075","0.0125"]}, "xOffset": {"field": "grp", "type": "nominal", "sort": ["NTV","14-3-3η K/D"]}, "y": {"field": "hi", "type": "quantitative"}}},
   {"data": {"name": "fBars"}, "mark": {"type": "tick", "orient": "horizontal", "color": "#404040", "size": 8, "thickness": 0.8},
    "encoding": {"x": {"field": "cat", "type": "nominal", "sort": ["Mock","0.0075","0.0125"]}, "xOffset": {"field": "grp", "type": "nominal", "sort": ["NTV","14-3-3η K/D"]}, "y": {"field": "lo", "type": "quantitative"}}},
   {"data": {"name": "fBr"}, "mark": {"type": "line", "color": "black", "strokeWidth": 1},
    "encoding": {"x": {"field": "cat", "type": "nominal", "sort": ["Mock","0.0075","0.0125"]}, "xOffset": {"field": "grp", "type": "nominal", "sort": ["NTV","14-3-3η K/D"]}, "y": {"field": "y", "type": "quantitative"}, "order": {"field": "o", "type": "quantitative"}, "detail": {"field": "b", "type": "nominal"}}},
   {"data": {"name": "fStar"}, "mark": {"type": "text", "text": "*", "fontSize": 14, "baseline": "middle", "dy": 3},
    "encoding": {"x": {"field": "cat", "type": "nominal", "sort": ["Mock","0.0075","0.0125"]}, "y": {"field": "y", "type": "quantitative"}}},
   {"data": {"name": "fGroup"}, "mark": {"type": "rule", "color": "#333", "strokeWidth": 1},
    "encoding": {"x": {"field": "from", "type": "nominal", "sort": ["Mock","0.0075","0.0125"], "bandPosition": -0.18}, "x2": {"field": "to", "bandPosition": 1.46}, "y": {"field": "y", "type": "quantitative"}}},
   {"data": {"name": "fGroup"}, "mark": {"type": "text", "fontSize": 13.5, "baseline": "middle"},
    "encoding": {"x": {"field": "from", "type": "nominal", "sort": ["Mock","0.0075","0.0125"], "bandPosition": 1.6}, "y": {"field": "ty", "type": "quantitative"}, "text": {"field": "label"}}}
  ]},
 {"width": 130, "height": 1, "data": {"values": []}, "mark": "point"},
 {"width": 266, "height": 242,
  "title": {"text": "(G)", "dx": -102, "offset": 19},
  "layer": [
   {"data": {"name": "gBars"}, "mark": {"type": "bar", "stroke": "black", "strokeWidth": 1, "fill": "#595959"},
    "encoding": {
     "x": {"field": "cat", "type": "nominal", "sort": ["NTV","14-3-3η K/D"], "scale": {"domain": ["NTV","14-3-3η K/D"], "paddingInner": 0.5, "paddingOuter": 0.25}, "axis": {"title": null, "labelFontSize": 13, "labelPadding": 13}},
     "xOffset": {"field": "grp", "type": "nominal", "sort": ["Mock","EMCV"], "scale": {"domain": ["Mock","EMCV"], "paddingInner": 0.2}},
     "y": {"field": "v", "type": "quantitative", "scale": {"domain": [0, 18], "nice": false}, "axis": {"title": "EMCV vRNA level (copies/mL) x 10⁸", "format": "d", "labelOverlap": false, "tickCount": 1000, "values": [0,2,4,6,8,10,12,14,16,18], "labelFontSize": 14, "titleFontSize": 13, "titlePadding": 24, "labelPadding": 8}}
    }},
   {"data": {"name": "gBars"}, "transform": [{"filter": "false"}],
    "mark": {"type": "point", "filled": true, "size": 81, "opacity": 1},
    "encoding": {
     "x": {"field": "cat", "type": "nominal", "sort": ["NTV","14-3-3η K/D"]},
     "y": {"field": "v", "type": "quantitative"},
     "shape": {"field": "grp", "type": "nominal", "scale": {"domain": ["Mock","EMCV"], "range": ["square","square"]},
       "legend": {"orient": "none", "legendX": 6.5, "legendY": 6, "title": null, "labelFontSize": 13.5, "symbolSize": 81, "symbolStrokeWidth": 0.8, "symbolOpacity": 1, "rowPadding": 40, "labelOffset": 3}},
     "fill": {"field": "grp", "type": "nominal", "scale": {"domain": ["Mock","EMCV"], "range": ["white","black"]},
       "legend": {"orient": "none", "legendX": 6.5, "legendY": 6, "title": null, "labelFontSize": 13.5, "symbolSize": 81, "symbolStrokeWidth": 0.8, "symbolOpacity": 1, "rowPadding": 40, "labelOffset": 3}},
     "stroke": {"field": "grp", "type": "nominal", "scale": {"domain": ["Mock","EMCV"], "range": ["black","black"]},
       "legend": {"orient": "none", "legendX": 6.5, "legendY": 6, "title": null, "labelFontSize": 13.5, "symbolSize": 81, "symbolStrokeWidth": 0.8, "symbolOpacity": 1, "rowPadding": 40, "labelOffset": 3}}
    }},
   {"data": {"name": "gBars"}, "mark": {"type": "rule", "color": "#404040", "strokeWidth": 0.8},
    "encoding": {"x": {"field": "cat", "type": "nominal", "sort": ["NTV","14-3-3η K/D"]}, "xOffset": {"field": "grp", "type": "nominal", "sort": ["Mock","EMCV"]}, "y": {"field": "lo", "type": "quantitative"}, "y2": {"field": "hi"}}},
   {"data": {"name": "gBars"}, "mark": {"type": "tick", "orient": "horizontal", "color": "#404040", "size": 8, "thickness": 0.8},
    "encoding": {"x": {"field": "cat", "type": "nominal", "sort": ["NTV","14-3-3η K/D"]}, "xOffset": {"field": "grp", "type": "nominal", "sort": ["Mock","EMCV"]}, "y": {"field": "hi", "type": "quantitative"}}},
   {"data": {"name": "gBr"}, "mark": {"type": "line", "color": "black", "strokeWidth": 1},
    "encoding": {"x": {"field": "cat", "type": "nominal", "sort": ["NTV","14-3-3η K/D"]}, "xOffset": {"field": "grp", "type": "nominal", "sort": ["Mock","EMCV"]}, "y": {"field": "y", "type": "quantitative"}, "order": {"field": "o", "type": "quantitative"}, "detail": {"field": "b", "type": "nominal"}}},
   {"data": {"name": "gStar"}, "mark": {"type": "text", "text": "*", "fontSize": 14, "baseline": "middle", "dy": 3},
    "encoding": {"x": {"field": "cat", "type": "nominal", "sort": ["NTV","14-3-3η K/D"], "bandPosition": 1.775}, "y": {"field": "y", "type": "quantitative"}}}
  ]}
 ]}
]
}
